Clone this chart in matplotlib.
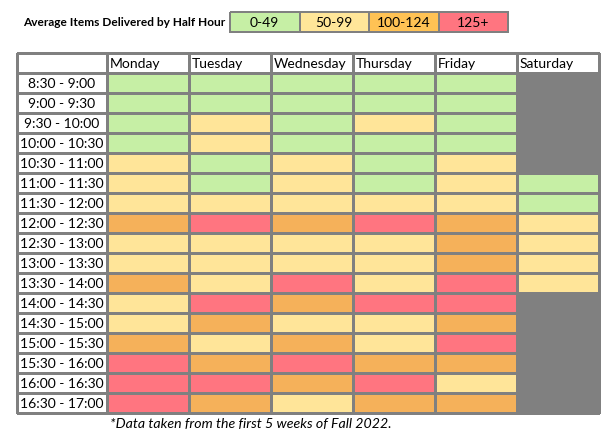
import numpy as np
import matplotlib.pyplot as plt
from matplotlib.colors import ListedColormap, BoundaryNorm

plt.rcParams['font.family'] = ['Lato', 'DejaVu Sans']

# Data: bin index per half hour (None = closed)
bins = ['0-49', '50-99', '100-124', '125+']
days = ['Monday', 'Tuesday', 'Wednesday', 'Thursday', 'Friday', 'Saturday']
slots = ['8:30 - 9:00', '9:00 - 9:30', '9:30 - 10:00', '10:00 - 10:30',
         '10:30 - 11:00', '11:00 - 11:30', '11:30 - 12:00', '12:00 - 12:30',
         '12:30 - 13:00', '13:00 - 13:30', '13:30 - 14:00', '14:00 - 14:30',
         '14:30 - 15:00', '15:00 - 15:30', '15:30 - 16:00', '16:00 - 16:30',
         '16:30 - 17:00']
monday    = [0, 0, 0, 0, 1, 1, 1, 2, 1, 1, 2, 1, 1, 2, 3, 3, 3]
tuesday   = [0, 0, 1, 1, 0, 0, 1, 3, 1, 1, 1, 3, 2, 1, 2, 3, 2]
wednesday = [0, 0, 0, 0, 1, 1, 1, 2, 1, 1, 3, 2, 1, 2, 3, 2, 1]
thursday  = [0, 0, 1, 0, 0, 0, 1, 3, 1, 1, 1, 3, 1, 1, 2, 3, 2]
friday    = [0, 0, 0, 0, 1, 1, 1, 2, 2, 2, 3, 3, 2, 3, 2, 1, 2]
saturday  = [None, None, None, None, None, 0, 0, 1, 1, 1, 1,
             None, None, None, None, None, None]
footnote = '*Data taken from the first 5 weeks of Fall 2022.'

bin_colors = ['#C6EFA5', '#FFE599', '#F5B15A', '#FF7580']
legend_colors = ['#C6EFA5', '#FFE699', '#FFC254', '#FF7580']
closed = '#808080'
line = '#808080'

# grid codes: -2 = white (header / labels), -1 = closed
values = np.array([monday, tuesday, wednesday, thursday, friday, saturday], dtype=object).T
grid = np.full((len(slots) + 1, len(days) + 1), -2.0)
for r in range(len(slots)):
    for c in range(len(days)):
        v = values[r, c]
        grid[r + 1, c + 1] = -1 if v is None else v

cmap = ListedColormap(['white', closed] + bin_colors)
norm = BoundaryNorm([-2.5, -1.5, -0.5, 0.5, 1.5, 2.5, 3.5], cmap.N)

fig = plt.figure(figsize=(6.16, 4.40), dpi=100)
ax = fig.add_axes([0, 0, 1, 1])
ax.set_xlim(0, 616)
ax.set_ylim(440, 0)
ax.axis('off')

# table layout (pixels)
left, top, label_w, col_w, row_h = 17, 53, 90, 82, 20
x_edges = np.concatenate([[left], left + label_w + col_w * np.arange(len(days) + 1)])
y_edges = top + row_h * np.arange(len(slots) + 2)
ax.pcolormesh(x_edges, y_edges, grid, cmap=cmap, norm=norm,
              edgecolor=line, linewidth=0.9)

for c, d in enumerate(days):
    ax.text(x_edges[c + 1] + 3, y_edges[0] + row_h / 2 + 1, d,
            ha='left', va='center', fontsize=10, color='black')
for r, s in enumerate(slots):
    ax.text(left + label_w / 2, y_edges[r + 1] + row_h / 2 + 1, s,
            ha='center', va='center', fontsize=10, color='black')

# legend
leg_x = 230 + 69.5 * np.arange(len(bins) + 1)
leg_y = np.array([12, 32])
ax.pcolormesh(leg_x, leg_y, np.arange(len(bins))[None, :].astype(float),
              cmap=ListedColormap(legend_colors),
              vmin=-0.5, vmax=3.5, edgecolor=line, linewidth=1.2)
for i, b in enumerate(bins):
    ax.text((leg_x[i] + leg_x[i + 1]) / 2, 23, b, ha='center', va='center',
            fontsize=10, color='black')
ax.text(23, 23, 'Average Items Delivered by Half Hour', ha='left', va='center',
        fontsize=8.6, fontweight='bold', color='black')

ax.text(251, 424, footnote, ha='center', va='center', fontsize=10.2,
        fontstyle='italic', color='black')

fig.savefig('out.png', dpi=100)
